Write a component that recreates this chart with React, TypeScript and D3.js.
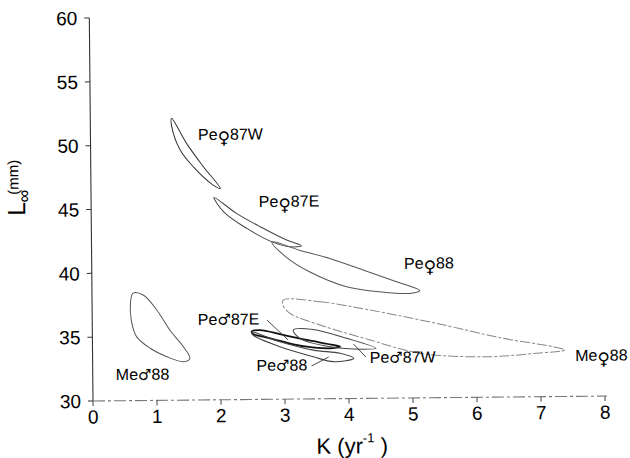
import React from 'react';
import * as d3 from 'd3';

const WIDTH = 630;
const HEIGHT = 458;

const X_TICKS = [0, 1, 2, 3, 4, 5, 6, 7, 8];
const Y_TICKS = [30, 35, 40, 45, 50, 55, 60];

// outline points of each confidence region, [K, Linf]
const peF87W = [[1.27, 52.08], [1.5, 50.11], [1.76, 48.27], [2.02, 46.56], [1.91, 46.82], [1.6, 48.28], [1.4, 49.59], [1.27, 51.47]];
const peF87E = [[1.92, 45.86], [2.27, 44.59], [2.64, 43.52], [3.05, 42.46], [3.28, 42.0], [3.1, 41.93], [2.84, 42.29], [2.43, 43.4], [2.07, 44.72]];
const peF88 = [[2.82, 42.32], [3.25, 41.66], [3.72, 40.99], [4.24, 40.06], [4.76, 39.11], [5.12, 38.4], [4.97, 38.19], [4.5, 38.34], [3.98, 38.76], [3.41, 39.94], [3.02, 41.21]];
const meF88 = [[2.99, 37.77], [3.56, 37.61], [4.34, 36.92], [5.38, 35.82], [6.42, 34.6], [7.2, 33.9], [7.38, 33.64], [6.94, 33.41], [6.16, 33.17], [5.12, 33.49], [4.34, 34.57], [3.56, 35.78], [3.09, 36.72], [2.98, 37.38]];
const meM88 = [[0.64, 38.4], [0.8, 38.26], [1.01, 37.08], [1.21, 35.5], [1.42, 34.18], [1.52, 33.27], [1.42, 33.01], [1.16, 33.41], [0.9, 34.09], [0.69, 35.01], [0.61, 36.31], [0.6, 37.62]];
const peM87E = [[2.49, 35.31], [2.62, 35.43], [2.98, 35.03], [3.35, 34.62], [3.76, 34.21], [3.87, 34.06], [3.71, 33.95], [3.35, 34.09], [2.98, 34.5], [2.67, 34.91], [2.51, 35.13]];
const peM88 = [[2.49, 35.28], [2.93, 34.5], [3.45, 33.82], [3.87, 33.55], [4.08, 33.14], [3.76, 32.9], [3.45, 33.3], [2.93, 34.11], [2.51, 35.05]];
const peM87W = [[3.14, 35.41], [3.45, 35.44], [3.97, 34.72], [4.43, 33.92], [4.23, 33.85], [3.71, 34.07], [3.24, 34.75]];

// labels
const LABELS = ['Pe♀87W', 'Pe♀87E', 'Pe♀88', 'Me♀88', 'Pe♂87E', 'Pe♂88', 'Pe♂87W', 'Me♂88'];
const LABEL_K = [1.68, 2.62, 4.88, 7.54, 1.65, 2.56, 4.33, 0.36];
const LABEL_L = [50.36, 45.07, 40.11, 32.77, 35.87, 32.23, 32.77, 31.62];

// leader lines [K1, L1, K2, L2]
const LEADERS = [
  [2.73, 36.21, 3.06, 34.63],
  [3.42, 32.58, 3.69, 33.27],
  [4.08, 34.26, 4.27, 33.24],
];

const regions = [
  { pts: peF87W, stroke: '#333', sw: 1 },
  { pts: peF87E, stroke: '#444', sw: 1 },
  { pts: peF88, stroke: '#555', sw: 1 },
  { pts: meF88, stroke: '#888', sw: 1, dash: '10 2 3 2' },
  { pts: meM88, stroke: '#555', sw: 1 },
  { pts: peM87E, stroke: '#111', sw: 1.8 },
  { pts: peM88, stroke: '#444', sw: 1.1 },
  { pts: peM87W, stroke: '#444', sw: 1 },
];

const FONT = 'Liberation Sans, Arial, Helvetica, sans-serif';

export default function App() {
  const x = d3.scaleLinear().domain([0, 8]).range([93, 605]);
  const y = d3.scaleLinear().domain([30, 60]).range([401, 18]);

  const line = d3.line<number[]>()
    .x(d => x(d[0]))
    .y(d => y(d[1]))
    .curve(d3.curveCatmullRomClosed.alpha(0.5));

  const renderLabel = (s: string) => {
    const [pre, sym, post] = s.split(/([♀♂])/);
    const female = sym === '♀';
    return [
      <tspan key="a">{pre}</tspan>,
      <tspan key="b" fontFamily="DejaVu Sans" fontSize={female ? 17 : 15} dy={female ? 4 : 0}>{sym}</tspan>,
      <tspan key="c" dy={female ? -4 : 0}>{post}</tspan>,
    ];
  };

  return (
    <svg width={WIDTH} height={HEIGHT} style={{ position: 'absolute', left: 0, top: 0, background: '#fff' }}
      fontFamily={FONT}>
      <rect width={WIDTH} height={HEIGHT} fill="#fff" />
      <g transform="rotate(-0.55, 93, 401)">
        {/* y axis */}
        <line x1={x(0)} x2={x(0)} y1={y(60)} y2={y(30)} stroke="#333" strokeWidth={1.1} />
        {Y_TICKS.map(t => (
          <g key={t}>
            <line x1={x(0) - 5} x2={x(0)} y1={y(t)} y2={y(t)} stroke="#333" />
            <text x={81} y={y(t)} dy="0.36em" textAnchor="end" fontSize={19} fill="#000">{t}</text>
          </g>
        ))}
        {/* x axis */}
        <line x1={x(0)} x2={x(8) + 2} y1={y(30)} y2={y(30)} stroke="#777" strokeWidth={1.1} strokeDasharray="12 3 3 3" />
        {X_TICKS.map(t => (
          <g key={t}>
            <line x1={x(t)} x2={x(t)} y1={y(30)} y2={y(30) + 5} stroke="#444" />
            <text x={x(t)} y={423.5} textAnchor="middle" fontSize={19} fill="#000">{t}</text>
          </g>
        ))}

        {/* axis titles */}
        <text x={316} y={456} fontSize={22} fill="#000">
          K (yr
          <tspan fontSize={13} dy={-11}>-1</tspan>
          <tspan dy={11}> )</tspan>
        </text>
        <g transform="translate(27,215) rotate(-90)" fill="#000">
          <text x={0} y={0} fontSize={25}>L</text>
          <text x={13} y={5} fontSize={18}>∞</text>
          <text x={21} y={-6.5} fontSize={15}>(mm)</text>
        </g>

        {/* regions */}
        {regions.map((r, i) => (
          <path key={i} d={line(r.pts) || ''} fill="none" stroke={r.stroke} strokeWidth={r.sw}
            strokeDasharray={r.dash} />
        ))}

        {/* leaders */}
        {LEADERS.map((l, i) => (
          <line key={i} x1={x(l[0])} y1={y(l[1])} x2={x(l[2])} y2={y(l[3])} stroke="#333" strokeWidth={0.9} />
        ))}

        {/* labels */}
        {LABELS.map((s, i) => (
          <text key={s} x={x(LABEL_K[i])} y={y(LABEL_L[i])} fontSize={16} fill="#000">{renderLabel(s)}</text>
        ))}
      </g>
    </svg>
  );
}
